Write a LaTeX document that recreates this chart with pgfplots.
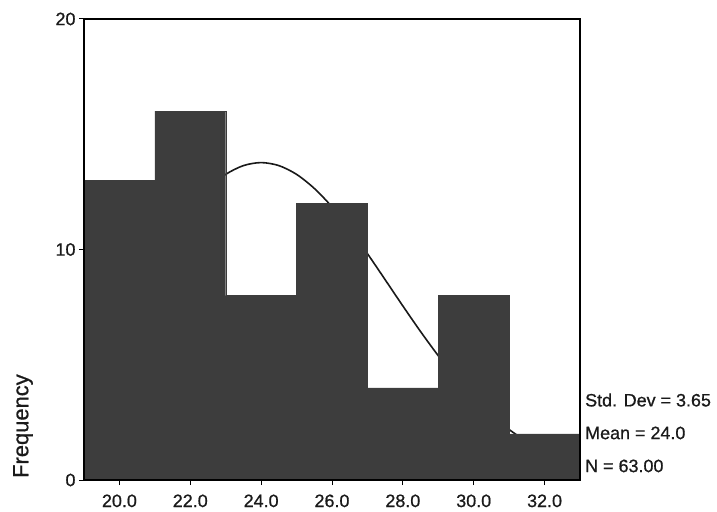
\documentclass[border=0pt]{standalone}
\usepackage{pgfplots}
\pgfplotsset{compat=1.18}
\usepackage{fontspec}
\setmainfont{Liberation Sans}[FakeBold=0.8, UprightFeatures={FakeBold=0.8}]
\definecolor{barcol}{HTML}{3D3D3D}
\definecolor{txt}{HTML}{1A1A1A}
\begin{document}
\begin{tikzpicture}
\useasboundingbox (-84bp,-32bp) rectangle (633bp,480bp);
\begin{axis}[
  at={(0,0)}, anchor=south west,
  scale only axis, width=496bp, height=461bp,
  xmin=19, xmax=33, ymin=0, ymax=20,
  xtick={20,22,24,26,28,30,32},
  xticklabels={20.0,22.0,24.0,26.0,28.0,30.0,32.0},
  ytick={0,10,20},
  xtick pos=bottom, ytick pos=left,
  tick align=outside,
  x tick style={line width=1bp, black},
  y tick style={line width=1bp, black},
  major tick length=5bp,
  axis line style={line width=1.3bp, black},
  axis on top,
  clip=false,
  /pgf/number format/assume math mode=true,
  tick label style={font=\fontsize{18}{20}\selectfont, text=txt},
  every x tick label/.append style={yshift=-6bp},
]
\addplot[smooth, color=black!90, line width=1.6bp] coordinates {
(19,5.39) (19.5,6.44) (20,7.55) (20.5,8.69) (21,9.82) (21.5,10.89)
(22,11.85) (22.5,12.65) (23,13.26) (23.5,13.64) (24,13.77) (24.5,13.64)
(25,13.26) (25.5,12.65) (26,11.85) (26.5,10.89) (27,9.82) (27.5,8.69)
(28,7.55) (28.5,6.44) (29,5.39) (29.5,4.42) (30,3.57) (30.5,2.82)
(31,2.19) (31.5,1.67) (32,1.25) (32.5,0.91) (33,0.66)
};
\addplot[ybar interval, fill=barcol, draw=barcol] coordinates {
(19,13) (21,16) (23,8) (25,12) (27,4) (29,8) (31,2) (33,2)
};
\node[anchor=west, font=\fontsize{18}{20}\selectfont, text=txt, inner sep=0pt]
  at (axis cs:33,3.47) [xshift=5bp] {Std. Dev = 3.65};
\node[anchor=west, font=\fontsize{18}{20}\selectfont, text=txt, inner sep=0pt]
  at (axis cs:33,2.04) [xshift=5bp] {Mean = 24.0};
\node[anchor=west, font=\fontsize{18}{20}\selectfont, text=txt, inner sep=0pt]
  at (axis cs:33,0.61) [xshift=5bp] {N = 63.00};
\node[xshift=-61bp, rotate=90, font=\fontsize{22}{24}\selectfont, text=txt, inner sep=0pt]
  at (axis cs:19,2.34) {Frequency};
\end{axis}
\end{tikzpicture}
\end{document}
